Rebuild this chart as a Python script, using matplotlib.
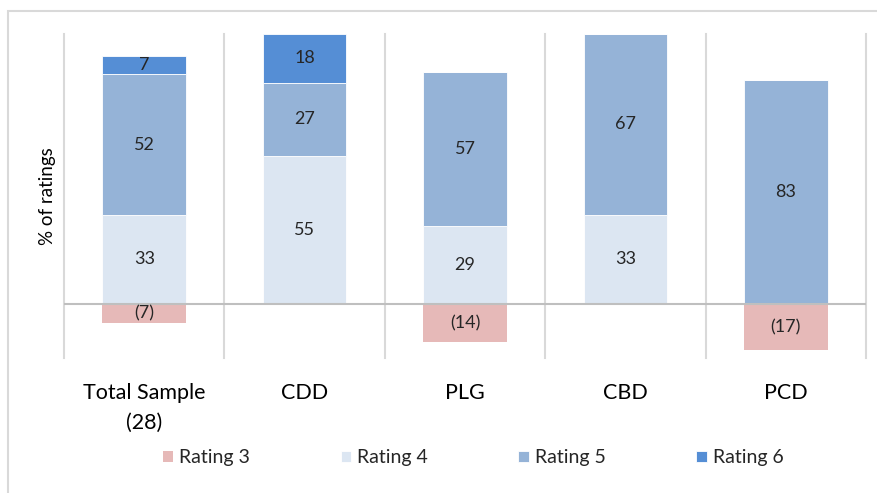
import matplotlib
matplotlib.use("Agg")
import matplotlib.pyplot as plt
from matplotlib.patches import Rectangle
import numpy as np

plt.rcParams['font.family'] = ['Lato', 'DejaVu Sans']

categories = ['Total Sample\n(28)', 'CDD', 'PLG', 'CBD', 'PCD']
rating3 = [-7, 0, -14, 0, -17]
rating4 = [33, 55, 29, 33, 0]
rating5 = [52, 27, 57, 67, 83]
rating6 = [7, 18, 0, 0, 0]
series_names = ['Rating 3', 'Rating 4', 'Rating 5', 'Rating 6']
colors = ['#E6B9B8', '#DCE6F2', '#95B3D7', '#558ED5']

fig = plt.figure(figsize=(8.77, 4.93), dpi=100)
ax = fig.add_axes([64 / 877, 1 - 358 / 493, 802 / 877, 324 / 493])

x = np.arange(len(categories))
width = 0.52
txt = '#262626'

def fmt(v):
    return '(%d)' % -v if v < 0 else '%d' % v

# negative part goes below the zero line, the rest stacks upward
bars = ax.bar(x, rating3, width, color=colors[0], label=series_names[0], zorder=2)
for b, v in zip(bars, rating3):
    if v:
        ax.text(b.get_x() + b.get_width() / 2, v / 2, fmt(v), ha='center', va='center',
                fontsize=13, color=txt, zorder=3)

bottom = np.zeros(len(categories))
for vals, col, name in zip([rating4, rating5, rating6], colors[1:], series_names[1:]):
    vals = np.array(vals)
    bars = ax.bar(x, vals, width, bottom=bottom, color=col, label=name,
                  edgecolor='white', linewidth=0.6, zorder=2)
    for b, v, b0 in zip(bars, vals, bottom):
        if v:
            ax.text(b.get_x() + b.get_width() / 2, b0 + v / 2, fmt(v), ha='center',
                    va='center', fontsize=13, color=txt, zorder=3)
    bottom += vals

ax.set_xlim(-0.5, len(categories) - 0.5)
ax.set_ylim(-20, 100)
for xb in np.arange(len(categories) + 1) - 0.5:
    ax.axvline(xb, color='#D9D9D9', lw=1.5, zorder=1, clip_on=False)
ax.axhline(0, color='#BFBFBF', lw=1.5, zorder=2.5)

for s in ax.spines.values():
    s.set_visible(False)
ax.set_yticks([])
ax.set_xticks(x)
ax.set_xticklabels(categories, fontsize=15.5, color='black', linespacing=1.6)
ax.tick_params(axis='x', length=0, pad=18)
ax.set_ylabel('% of ratings', fontsize=13.5, color='black', labelpad=6)

fig.legend(loc='center', bbox_to_anchor=(473 / 877, 1 - 458 / 493), ncol=4, frameon=False,
           fontsize=14, handlelength=0.55, handleheight=0.55, handletextpad=0.3,
           columnspacing=4.65, labelcolor=txt)

# chart frame, partly outside the canvas
fig.add_artist(Rectangle((8 / 877, -0.1), 1.2, 1.1 - 11 / 493, transform=fig.transFigure,
                         fill=False, edgecolor='#D9D9D9', lw=1.5))
fig.text(880 / 877, 1.0055, 'Rating of design quality by survey participants, by policy (by typology)',
         ha='right', va='baseline', fontsize=14, fontweight='bold', color='black')

fig.savefig('out.png', dpi=100)
